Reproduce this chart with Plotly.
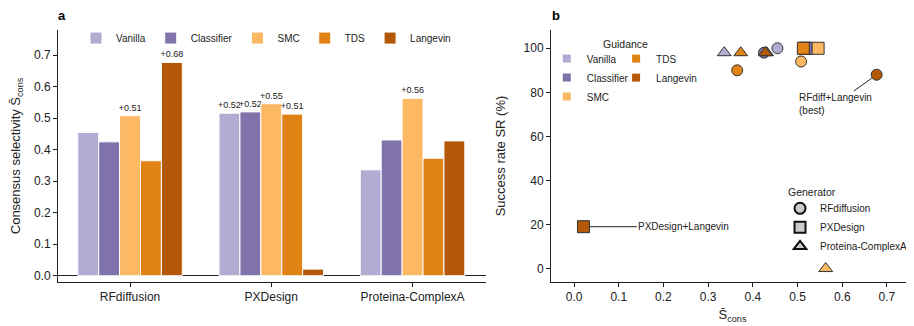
import plotly.graph_objects as go

# ---------------- data ----------------
generators = ["RFdiffusion", "PXDesign", "Proteina-ComplexA"]
guidance = ["Vanilla", "Classifier", "SMC", "TDS", "Langevin"]
guidance_colors = ["#b2abd2", "#8073ac", "#fdb863", "#e08214", "#b35806"]

# consensus selectivity S_cons (per guidance, across generators)
s_vanilla = [0.455, 0.516, 0.336]
s_classifier = [0.425, 0.520, 0.431]
s_smc = [0.508, 0.546, 0.563]
s_tds = [0.365, 0.513, 0.373]
s_langevin = [0.677, 0.021, 0.428]

# success rate SR (%) (per guidance, across generators)
sr_vanilla = [100, 100, 98]
sr_classifier = [98, 100, 98]
sr_smc = [94, 100, 0]
sr_tds = [90, 100, 98]
sr_langevin = [88, 19, 98]

generator_symbols = ["circle", "square", "triangle-up"]

S = [s_vanilla, s_classifier, s_smc, s_tds, s_langevin]
SR = [sr_vanilla, sr_classifier, sr_smc, sr_tds, sr_langevin]

FONT = "Liberation Sans, Arial, sans-serif"
INK = "#222222"

fig = go.Figure()

# ---------------- panel a: grouped bars ----------------
for name, col, vals in zip(guidance, guidance_colors, S):
    fig.add_trace(go.Bar(
        x=generators, y=vals, name=name,
        marker=dict(color=col, line=dict(color="white", width=1)),
        text=[f"+{v:.2f}" if v > 0.5 else "" for v in vals],
        textposition="outside", constraintext="none", cliponaxis=False,
        textfont=dict(size=9, color=INK, family=FONT),
        xaxis="x", yaxis="y", legend="legend",
    ))

# ---------------- panel b: scatter ----------------
for gi, (gen, sym) in enumerate(zip(generators, generator_symbols)):
    fig.add_trace(go.Scatter(
        x=[s[gi] for s in S], y=[sr[gi] for sr in SR],
        mode="markers", showlegend=False, name=gen,
        marker=dict(symbol=sym, size=12 if sym != "circle" else 11,
                    color=guidance_colors, line=dict(color="#333333", width=1)),
        xaxis="x2", yaxis="y2", cliponaxis=False,
    ))

# legend entries for guidance (two columns) and generator
for i, (name, col) in enumerate(zip(guidance, guidance_colors)):
    fig.add_trace(go.Scatter(
        x=[None], y=[None], mode="markers", name=name,
        marker=dict(symbol="square", size=8, color=col),
        xaxis="x2", yaxis="y2", legend="legend2" if i < 3 else "legend3",
    ))
for gen, sym in zip(generators, generator_symbols):
    fig.add_trace(go.Scatter(
        x=[None], y=[None], mode="markers", name=gen,
        marker=dict(symbol=sym, size=11, color="#cccccc", line=dict(color="#111111", width=2)),
        xaxis="x2", yaxis="y2", legend="legend4",
    ))

axis_common = dict(showline=True, linecolor=INK, linewidth=1, ticks="outside", ticklen=4,
                   tickcolor=INK, showgrid=False, zeroline=False, automargin=False,
                   tickfont=dict(size=12, color=INK, family=FONT))

legend_common = dict(bgcolor="rgba(0,0,0,0)", borderwidth=0,
                     font=dict(size=10, color=INK, family=FONT))

# the page body adds an 8px offset, so the figure is drawn 8px smaller
fig.update_layout(
    width=906, height=318,
    margin=dict(l=50, r=0, t=22, b=44, autoexpand=False),
    paper_bgcolor="white", plot_bgcolor="white",
    font=dict(family=FONT, size=12, color=INK),
    barmode="group", bargap=0.26, bargroupgap=0,
    xaxis=dict(domain=[0, 0.5], range=[-0.51, 2.52], **axis_common),
    yaxis=dict(domain=[0, 1], range=[-0.02, 0.78],
               tickvals=[0, 0.1, 0.2, 0.3, 0.4, 0.5, 0.6, 0.7], tickformat=".1f",
               title=dict(text="Consensus selectivity S\u0304<sub>cons</sub>", font=dict(size=13)),
               **{**axis_common, "zeroline": True}, zerolinecolor=INK, zerolinewidth=1),
    xaxis2=dict(domain=[0.576, 1], anchor="y2", range=[-0.0515, 0.7606],
                tickvals=[0, 0.1, 0.2, 0.3, 0.4, 0.5, 0.6, 0.7], tickformat=".1f",
                title=dict(text="S\u0304<sub>cons</sub>", font=dict(size=13), standoff=6),
                **axis_common),
    yaxis2=dict(domain=[0, 1], anchor="x2", range=[-6.1, 108.3],
                tickvals=[0, 20, 40, 60, 80, 100],
                title=dict(text="Success rate SR (%)", font=dict(size=13)),
                **axis_common),
    legend=dict(orientation="h", x=0.243, xanchor="center", y=0.968, yanchor="middle", **legend_common),
    legend2=dict(orientation="v", x=0.571, xanchor="left", y=0.944, yanchor="top", **legend_common),
    legend3=dict(orientation="v", x=0.652, xanchor="left", y=0.944, yanchor="top", **legend_common),
    legend4=dict(orientation="v", x=0.8435, xanchor="left", y=0.35, yanchor="top", **legend_common),
    annotations=[
        dict(text="<b>a</b>", x=0.0047, y=1.0595, xref="paper", yref="paper", showarrow=False,
             xanchor="center", yanchor="middle", font=dict(size=13, color="black")),
        dict(text="<b>b</b>", x=0.5814, y=1.0595, xref="paper", yref="paper", showarrow=False,
             xanchor="center", yanchor="middle", font=dict(size=13, color="black")),
        dict(text="Guidance", x=0.663, y=0.943, xref="paper", yref="paper", showarrow=False,
             xanchor="center", yanchor="middle", font=dict(size=10.5, color=INK)),
        dict(text="Generator", x=0.8808, y=0.356, xref="paper", yref="paper", showarrow=False,
             xanchor="center", yanchor="middle", font=dict(size=10.5, color=INK)),
        dict(text="RFdiff+Langevin<br>(best)", align="left",
             x=s_langevin[0], y=sr_langevin[0], xref="x2", yref="y2",
             ax=0.584, ay=74.5, axref="x2", ayref="y2",
             showarrow=True, arrowhead=0, arrowwidth=1, arrowcolor=INK, standoff=6,
             font=dict(size=10, color=INK)),
        dict(text="PXDesign+Langevin", align="left",
             x=s_langevin[1], y=sr_langevin[1], xref="x2", yref="y2",
             ax=0.2454, ay=sr_langevin[1], axref="x2", ayref="y2",
             showarrow=True, arrowhead=0, arrowwidth=1, arrowcolor=INK, standoff=6,
             font=dict(size=10, color=INK)),
    ],
)

fig.write_html("out.html")
